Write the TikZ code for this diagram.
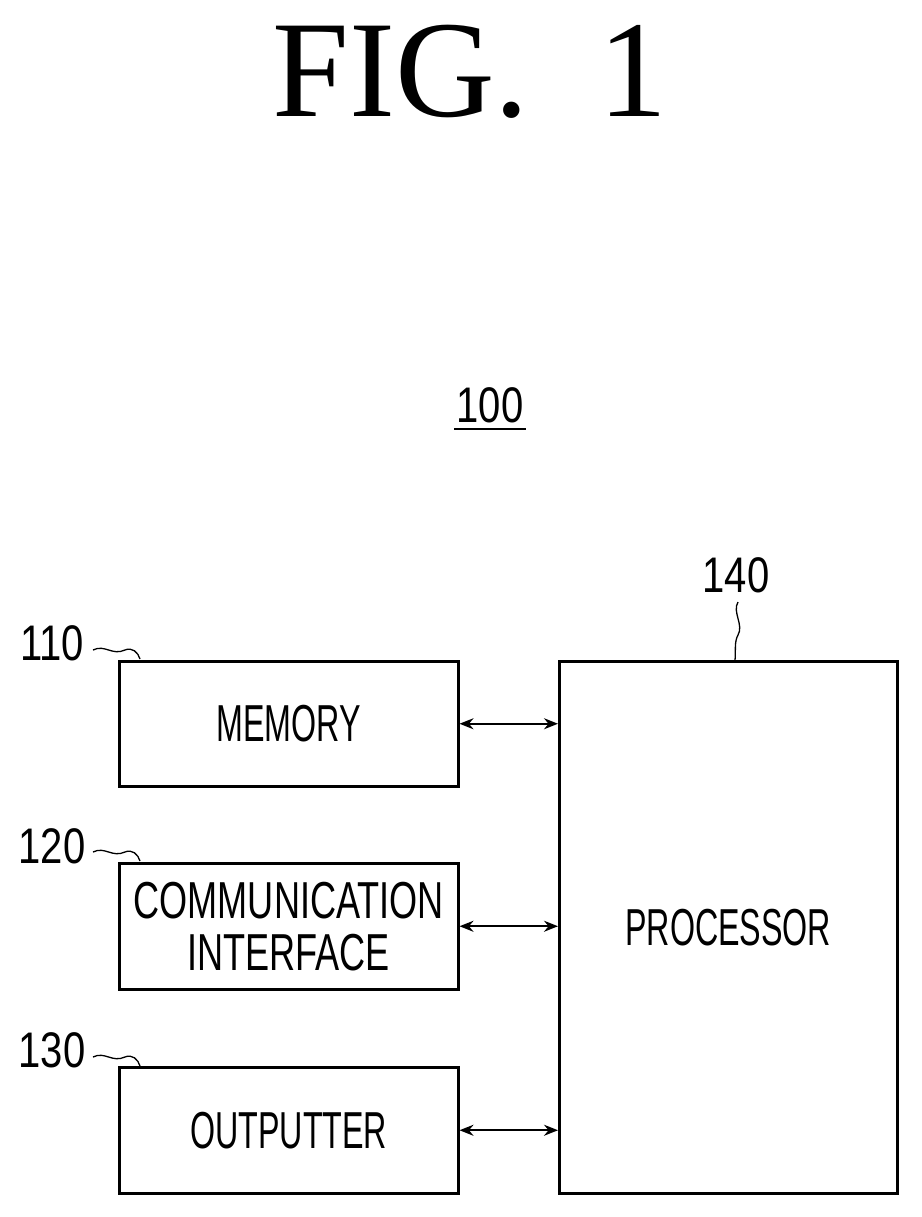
\documentclass[tikz,border=0pt]{standalone}
\usepackage{fontspec}
\setmainfont{Liberation Serif}
\newfontfamily\lab{Liberation Sans}
\usetikzlibrary{arrows.meta}
\begin{document}
\begin{tikzpicture}[x=1pt,y=-1pt,
 box/.style={draw,line width=2.5pt,inner sep=0},
 txt/.style={font=\lab\fontsize{52}{52}\selectfont,xscale=0.62,transform shape,align=center},
 num/.style={font=\lab\fontsize{50}{50}\selectfont,xscale=0.8,transform shape},
 arr/.style={{Stealth[length=14pt,width=11pt]}-{Stealth[length=14pt,width=11pt]},line width=2pt}]
\useasboundingbox (0,0) rectangle (921,1217);
\node[font=\fontsize{138}{138}\selectfont] (fig) at (470,72) {FIG.\ \ 1};
\node[num] (n100) at (490,405) {100};
\draw[line width=2pt] (454,429) -- (526,429);
\node[box,minimum width=339pt,minimum height=125pt,anchor=north west] (mem) at (118,660) {};
\node[box,minimum width=339pt,minimum height=126pt,anchor=north west] (com) at (118,862) {};
\node[box,minimum width=339pt,minimum height=126pt,anchor=north west] (out) at (118,1066) {};
\node[box,minimum width=338pt,minimum height=532pt,anchor=north west] (pro) at (558,660) {};
\node[txt] at (mem.center) {MEMORY};
\node[txt,xscale=1.12] at (com.center) {COMMUNICATION\\INTERFACE};
\node[txt] at (out.center) {OUTPUTTER};
\node[txt] at (pro.center) {PROCESSOR};
\draw[arr] (mem.east) -- (mem.east -| pro.west);
\draw[arr] (com.east) -- (com.east -| pro.west);
\draw[arr] (out.east) -- (out.east -| pro.west);
\node[num] (n110) at (52,643) {110};
\node[num] (n120) at (52,846) {120};
\node[num] (n130) at (52,1050) {130};
\node[num] (n140) at (736,575) {140};
\foreach \y/\b in {650/mem,852/com,1057/out}{
 \draw[line width=1.3pt] (93,\y) .. controls (105,\y-6) and (112,\y+6) .. (125,\y) .. controls (132,\y-3) and (138,\y+2) .. (140,\y+9);}
\draw[line width=1.3pt] (738,602) .. controls (732,612) and (744,625) .. (738,635) .. controls (734,642) and (736,652) .. (735,660);
\end{tikzpicture}
\end{document}
